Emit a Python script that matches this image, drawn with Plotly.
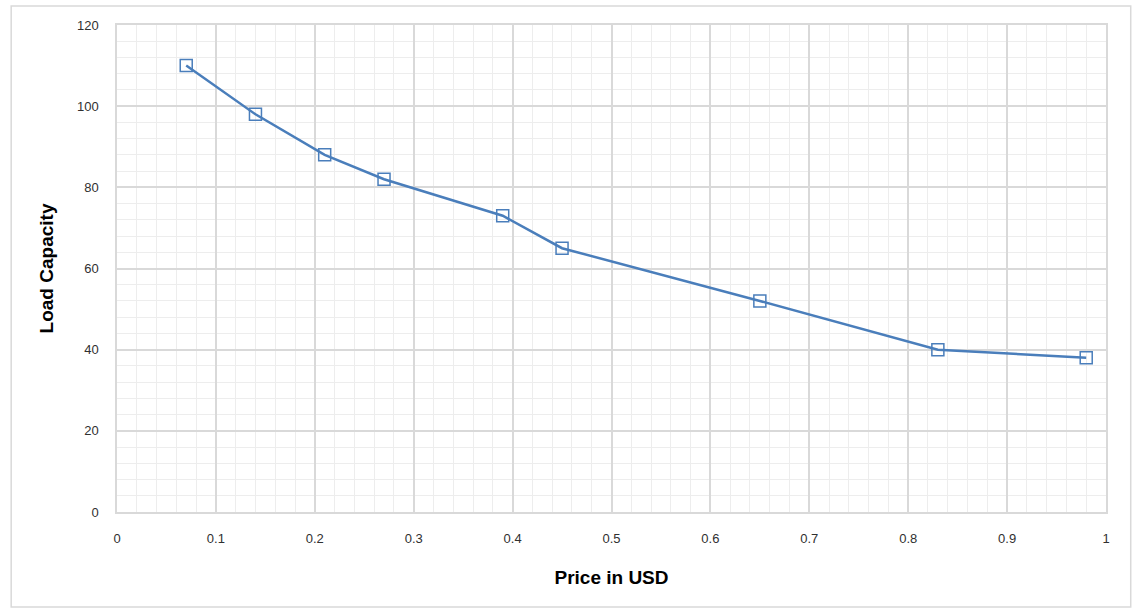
import plotly.graph_objects as go

# Price (USD) vs load capacity
price_usd = [0.07, 0.14, 0.21, 0.27, 0.39, 0.45, 0.65, 0.83, 0.98]
load_capacity = [110, 98, 88, 82, 73, 65, 52, 40, 38]

x_ticks = [0, 0.1, 0.2, 0.3, 0.4, 0.5, 0.6, 0.7, 0.8, 0.9, 1]
x_tick_text = ["0", "0.1", "0.2", "0.3", "0.4", "0.5", "0.6", "0.7", "0.8", "0.9", "1"]
y_ticks = [0, 20, 40, 60, 80, 100, 120]

line_color = "#4A7EBB"
major_grid = "#D9D9D9"
minor_grid = "#EDEDED"
tick_font = dict(family="Liberation Sans, Arial, sans-serif", size=13, color="#303030")
title_font = dict(family="Liberation Sans, Arial, sans-serif", size=19, color="#000000")

fig = go.Figure()
fig.add_trace(go.Scatter(
    x=price_usd,
    y=load_capacity,
    mode="lines+markers",
    line=dict(color=line_color, width=2.5),
    marker=dict(symbol="square-open", size=12, color=line_color, line=dict(width=1.5)),
    showlegend=False,
))

fig.update_layout(
    width=1135,
    height=611,
    margin=dict(l=117, r=29, t=25, b=99),
    paper_bgcolor="white",
    plot_bgcolor="white",
    xaxis=dict(
        range=[0, 1],
        tickvals=x_ticks,
        ticktext=x_tick_text,
        showgrid=True,
        gridcolor=major_grid,
        gridwidth=1.5,
        zeroline=False,
        showline=True,
        linecolor=major_grid,
        linewidth=1.5,
        mirror=True,
        ticks="",
        ticklabelstandoff=14,
        tickfont=tick_font,
        minor=dict(dtick=0.02, showgrid=True, gridcolor=minor_grid, gridwidth=1),
        title=dict(text="<b>Price in USD</b>", font=title_font, standoff=25),
    ),
    yaxis=dict(
        range=[0, 120],
        tickvals=y_ticks,
        showgrid=True,
        gridcolor=major_grid,
        gridwidth=1.5,
        zeroline=False,
        showline=True,
        linecolor=major_grid,
        linewidth=1.5,
        mirror=True,
        ticks="",
        ticklabelstandoff=14,
        tickfont=tick_font,
        minor=dict(dtick=4, showgrid=True, gridcolor=minor_grid, gridwidth=1),
        title=dict(text="<b>Load Capacity</b>", font=title_font, standoff=18),
    ),
)

# Light outer frame around the whole chart
fig.add_shape(
    type="rect", xref="paper", yref="paper",
    x0=-0.107, x1=1.025, y0=-0.195, y1=1.039,
    line=dict(color="#D9D9D9", width=1.5),
    fillcolor="rgba(0,0,0,0)",
    layer="below",
)

fig.write_html("out.html")
